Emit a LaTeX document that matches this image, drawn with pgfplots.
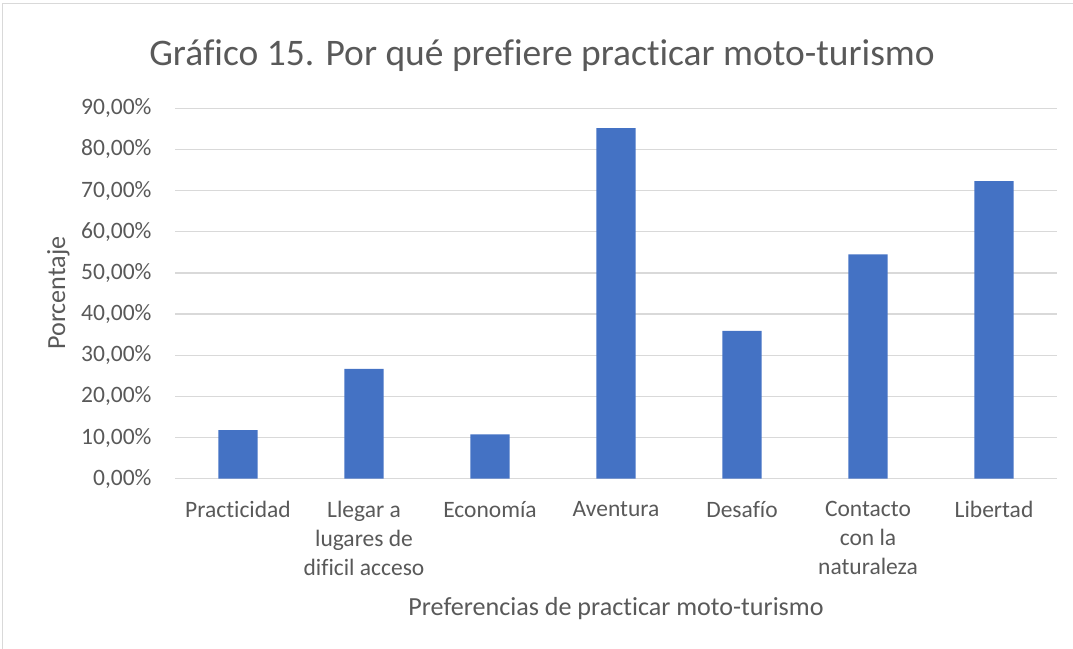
\documentclass[border=0pt]{standalone}
\usepackage{pgfplots}
\pgfplotsset{compat=1.18}
\usepackage{fontspec}
\setmainfont[Ligatures=NoCommon,RawFeature={-liga;-clig}]{Carlito}
\definecolor{barblue}{HTML}{4472C4}
\definecolor{gridgray}{HTML}{D9D9D9}
\definecolor{txt}{HTML}{595959}
\begin{document}
\begin{tikzpicture}
\useasboundingbox (0,0) rectangle (1073bp,-649bp);
\draw[gridgray, line width=1bp] (2.5bp,-3.3bp) rectangle (1090bp,-670bp);
\begin{axis}[
  at={(175bp,-478.7bp)}, anchor=south west, scale only axis,
  width=882bp, height=370.4bp,
  xmin=-0.5, xmax=6.5, ymin=0, ymax=90,
  xtick={0,1,2,3,4,5,6},
  xticklabels={Practicidad, {Llegar a\\lugares de\\dificil acceso}, Economía, Aventura, Desafío, {Contacto\\con la\\naturaleza}, Libertad},
  ytick={0,10,20,30,40,50,60,70,80,90},
  yticklabels={{0,00\%},{10,00\%},{20,00\%},{30,00\%},{40,00\%},{50,00\%},{60,00\%},{70,00\%},{80,00\%},{90,00\%}},
  ymajorgrids, grid style={gridgray, line width=1.2bp},
  axis line style={draw=none},
  major tick length=0pt,
  tick style={draw=none},
  xticklabel style={anchor=north, inner sep=0pt, align=center, yshift=-22.5bp, text=txt, font=\fontsize{23.5bp}{29bp}\selectfont},
  yticklabel style={anchor=east, inner sep=0pt, xshift=-23.3bp, text=txt, font=\fontsize{23.5bp}{29bp}\selectfont},
]
\addplot[ybar, bar width=39.4bp, fill=barblue, draw=none] coordinates {
  (0,11.8) (1,26.7) (2,10.8) (3,85.2) (4,35.9) (5,54.5) (6,72.3)
};
\end{axis}
\node[anchor=base, text=txt, font=\fontsize{37.5bp}{44bp}\selectfont, inner sep=0pt] at (542bp,-65bp) {Gráfico 15. Por qué prefiere practicar moto-turismo};
\node[anchor=base, text=txt, font=\fontsize{26.1bp}{32bp}\selectfont, inner sep=0pt] at (616bp,-615bp) {Preferencias de practicar moto-turismo};
\node[anchor=base, rotate=90, text=txt, font=\fontsize{26.1bp}{32bp}\selectfont, inner sep=0pt] at (65bp,-293bp) {Porcentaje};
\end{tikzpicture}
\end{document}
